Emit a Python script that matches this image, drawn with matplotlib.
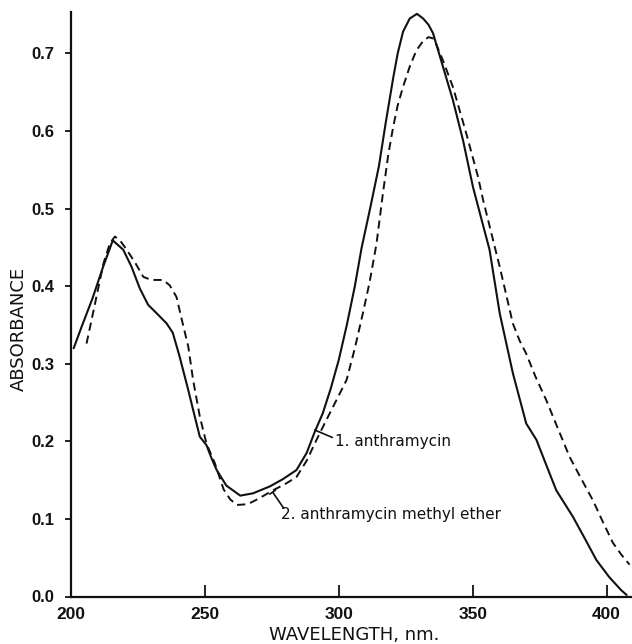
import matplotlib
matplotlib.use("Agg")
import matplotlib.pyplot as plt

# ---- data ----
wl_anthramycin = [201, 204, 208, 212, 215.6, 219.5, 222.6, 225.7, 228.8, 232, 235.7, 238,
                  240.5, 243.8, 246, 248.1, 250.6, 252.5, 254.4, 258, 263.2, 268, 274.3,
                  279, 284.2, 288, 291, 294, 297, 300, 303, 306, 308.5, 312, 315, 317.5,
                  320.3, 322, 324, 326.5, 329.2, 331.5, 333.5, 335.2, 338.9, 342.6, 346.4,
                  350.1, 353, 356.3, 360.1, 365, 370, 373.8, 378, 381.2, 387.4, 392,
                  396.2, 401, 405.5, 407.5]
abs_anthramycin = [0.320, 0.348, 0.384, 0.425, 0.459, 0.447, 0.425, 0.397, 0.376, 0.365,
                   0.352, 0.340, 0.310, 0.266, 0.235, 0.206, 0.195, 0.178, 0.163, 0.143,
                   0.130, 0.133, 0.142, 0.151, 0.163, 0.185, 0.212, 0.236, 0.268, 0.305,
                   0.350, 0.400, 0.449, 0.505, 0.555, 0.610, 0.668, 0.700, 0.728, 0.745,
                   0.751, 0.745, 0.737, 0.726, 0.683, 0.640, 0.588, 0.528, 0.490, 0.447,
                   0.365, 0.288, 0.223, 0.202, 0.165, 0.137, 0.103, 0.074, 0.047, 0.025,
                   0.008, 0.002]

wl_methyl_ether = [205.8, 209, 212.1, 214.5, 216.4, 218.5, 220.8, 224, 227, 230, 234.4,
                   236.9, 239.4, 241.5, 243.8, 245.6, 248.1, 250.6, 253.7, 257, 259.5,
                   262, 266, 270, 275.5, 280, 284.2, 288, 291.7, 295, 299.1, 302.9, 306,
                   309, 311.5, 314.1, 316.5, 318.5, 320.3, 322, 324, 326.5, 329, 331.5,
                   333.5, 335.5, 338.9, 342.6, 347.6, 352, 353.9, 357, 360.1, 365, 367.5,
                   370, 373.5, 377.5, 382, 386.2, 390.5, 394.9, 398.5, 402.4, 405.5, 408.6]
abs_methyl_ether = [0.326, 0.378, 0.429, 0.455, 0.464, 0.458, 0.447, 0.430, 0.412, 0.408,
                    0.408, 0.401, 0.386, 0.355, 0.322, 0.279, 0.232, 0.197, 0.172, 0.138,
                    0.125, 0.118, 0.119, 0.126, 0.137, 0.145, 0.154, 0.175, 0.202, 0.225,
                    0.253, 0.279, 0.320, 0.365, 0.405, 0.455, 0.520, 0.570, 0.605, 0.633,
                    0.657, 0.683, 0.704, 0.716, 0.721, 0.719, 0.691, 0.657, 0.597, 0.541,
                    0.511, 0.468, 0.425, 0.352, 0.330, 0.313, 0.283, 0.253, 0.215, 0.180,
                    0.152, 0.124, 0.097, 0.069, 0.054, 0.041]

x_ticks = [200, 250, 300, 350, 400]
y_ticks = [0.0, 0.1, 0.2, 0.3, 0.4, 0.5, 0.6, 0.7]
x_label = "WAVELENGTH, nm."
y_label = "ABSORBANCE"
label_1 = "1. anthramycin"
label_2 = "2. anthramycin methyl ether"

# ---- figure ----
fig = plt.figure(figsize=(6.32, 6.44), dpi=100)
ax = fig.add_axes([71 / 632, 47.5 / 644, 561 / 632, 584.2 / 644])

ink = "#111111"
ax.plot(wl_anthramycin, abs_anthramycin, color=ink, lw=1.5, solid_capstyle="round")
ax.plot(wl_methyl_ether, abs_methyl_ether, color=ink, lw=1.4,
        linestyle=(0, (4.2, 2.6)))

ax.set_xlim(200, 409.5)
ax.set_ylim(0, 0.753)

for s in ["top", "right"]:
    ax.spines[s].set_visible(False)
for s in ["left", "bottom"]:
    ax.spines[s].set_linewidth(1.6)
    ax.spines[s].set_color(ink)

tick_font = ["Liberation Sans", "DejaVu Sans"]
ax.set_xticks(x_ticks)
ax.set_xticklabels([str(v) for v in x_ticks], family=tick_font, fontsize=12.5,
                   fontweight="bold", color=ink)
ax.set_yticks(y_ticks)
ax.set_yticklabels([f"{v:.1f}" for v in y_ticks], family=tick_font, fontsize=12,
                   fontweight="bold", color=ink)
ax.tick_params(axis="x", direction="in", length=9, width=1.3, pad=7.5, colors=ink)
ax.tick_params(axis="y", direction="out", length=4, width=1.3, pad=8, colors=ink)

fig.text(354 / 632, (644 - 640) / 644, x_label, ha="center", va="baseline",
         fontsize=13, family="DejaVu Sans", color=ink)
fig.text(18.5 / 632, (644 - 329) / 644, y_label, ha="center", va="center",
         rotation=90, fontsize=13, family="DejaVu Sans", color=ink)

# annotation labels with short leader lines
ax.text(298.6, 0.2004, label_1, fontsize=11, family="DejaVu Sans", color=ink,
        va="center", ha="left")
ax.annotate("", xy=(291.0, 0.2146), xytext=(297.6, 0.2050),
            arrowprops=dict(arrowstyle="-", color=ink, lw=1.2, shrinkA=0, shrinkB=0))
ax.text(278.4, 0.1063, label_2, fontsize=11, family="DejaVu Sans", color=ink,
        va="center", ha="left")
ax.annotate("", xy=(275.3, 0.1345), xytext=(279.4, 0.1140),
            arrowprops=dict(arrowstyle="-[, widthB=0.25, lengthB=0", color=ink,
                            lw=1.2, shrinkA=0, shrinkB=0))

fig.savefig("out.png", dpi=100, facecolor="white")
